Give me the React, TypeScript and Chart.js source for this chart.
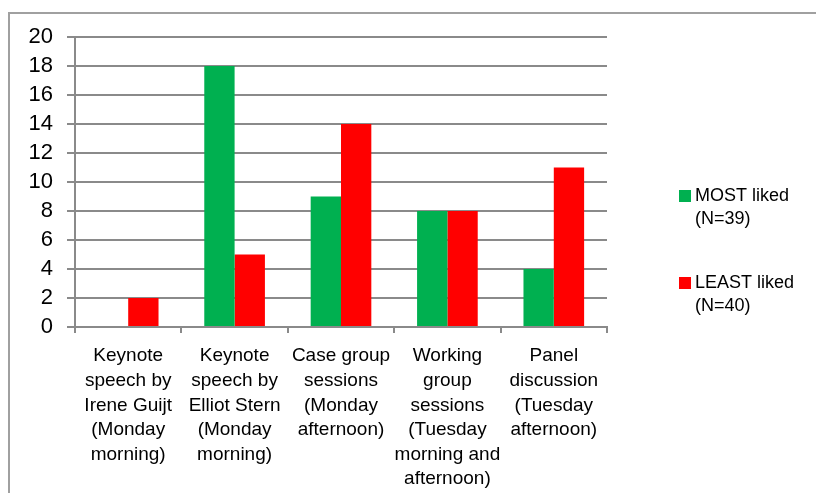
import React, { useEffect, useRef } from "react";
import { Chart, registerables } from "chart.js";

Chart.register(...registerables);

const categories: string[][] = [
  ["Keynote", "speech by", "Irene Guijt", "(Monday", "morning)"],
  ["Keynote", "speech by", "Elliot Stern", "(Monday", "morning)"],
  ["Case group", "sessions", "(Monday", "afternoon)"],
  ["Working", "group", "sessions", "(Tuesday", "morning and", "afternoon)"],
  ["Panel", "discussion", "(Tuesday", "afternoon)"],
];

const mostLiked: number[] = [0, 18, 9, 8, 4];
const leastLiked: number[] = [2, 5, 14, 8, 11];

const seriesLabels: string[] = ["MOST liked\n(N=39)", "LEAST liked\n(N=40)"];
const seriesColors: string[] = ["#00B050", "#FF0000"];

const yTicks = { min: 0, max: 20, step: 2 };

const FONT = '"Liberation Sans", Arial, sans-serif';
const GRID = "#8a8a8a";

const borderPlugin = {
  id: "outerBorder",
  beforeDraw(chart: any) {
    const ctx = chart.ctx;
    ctx.save();
    ctx.strokeStyle = "#a0a0a0";
    ctx.lineWidth = 2;
    ctx.beginPath();
    ctx.moveTo(9, chart.height);
    ctx.lineTo(9, 13);
    ctx.lineTo(chart.width, 13);
    ctx.stroke();
    ctx.restore();
  },
};

const sideLegend = {
  id: "sideLegend",
  afterDraw(chart: any) {
    const ctx = chart.ctx;
    const area = chart.chartArea;
    ctx.save();
    ctx.font = `18px ${FONT}`;
    ctx.textBaseline = "alphabetic";
    ctx.textAlign = "left";
    chart.data.datasets.forEach((ds: any, i: number) => {
      const lines = String(ds.label).split("\n");
      const baseY = area.top + 164 + i * 87;
      const x = area.right + 72;
      ctx.fillStyle = ds.backgroundColor;
      ctx.fillRect(x, baseY - 11, 12, 12);
      ctx.fillStyle = "#000";
      lines.forEach((l: string, j: number) => ctx.fillText(l, x + 16, baseY + j * 23));
    });
    ctx.restore();
  },
};

export default function App() {
  const ref = useRef<HTMLCanvasElement | null>(null);

  useEffect(() => {
    if (!ref.current) return;
    const chart = new Chart(ref.current, {
      type: "bar",
      data: {
        labels: categories as any,
        datasets: [
          {
            label: seriesLabels[0],
            data: mostLiked,
            backgroundColor: seriesColors[0],
            borderWidth: 0,
            categoryPercentage: 0.57,
            barPercentage: 1,
          },
          {
            label: seriesLabels[1],
            data: leastLiked,
            backgroundColor: seriesColors[1],
            borderWidth: 0,
            categoryPercentage: 0.57,
            barPercentage: 1,
          },
        ],
      },
      options: {
        responsive: false,
        animation: false,
        layout: { padding: { top: 37, right: 209, left: 0, bottom: 0 } },
        plugins: {
          legend: { display: false },
          tooltip: { enabled: false },
        },
        scales: {
          x: {
            afterFit(scale: any) {
              scale.height = 166;
            },
            grid: {
              display: true,
              drawOnChartArea: false,
              drawTicks: true,
              tickLength: 6,
              color: GRID,
              lineWidth: 2,
              offset: true,
            },
            border: { display: true, color: GRID, width: 2 },
            ticks: {
              autoSkip: false,
              maxRotation: 0,
              minRotation: 0,
              padding: 11,
              color: "#000",
              font: { family: FONT, size: 19, lineHeight: 1.29 },
            },
          },
          y: {
            min: yTicks.min,
            max: yTicks.max,
            afterFit(scale: any) {
              scale.width = 75;
            },
            grid: {
              color: GRID,
              lineWidth: 2,
              tickLength: 8,
            },
            border: { display: true, color: GRID, width: 2 },
            ticks: {
              stepSize: yTicks.step,
              autoSkip: false,
              padding: 14,
              color: "#000",
              font: { family: FONT, size: 22 },
            },
          },
        },
      },
      plugins: [borderPlugin, sideLegend],
    });
    return () => chart.destroy();
  }, []);

  return (
    <div style={{ position: "fixed", left: 0, top: 0, width: 816, height: 493, background: "#fff" }}>
      <canvas ref={ref} width={816} height={493} style={{ display: "block", width: 816, height: 493 }} />
    </div>
  );
}
